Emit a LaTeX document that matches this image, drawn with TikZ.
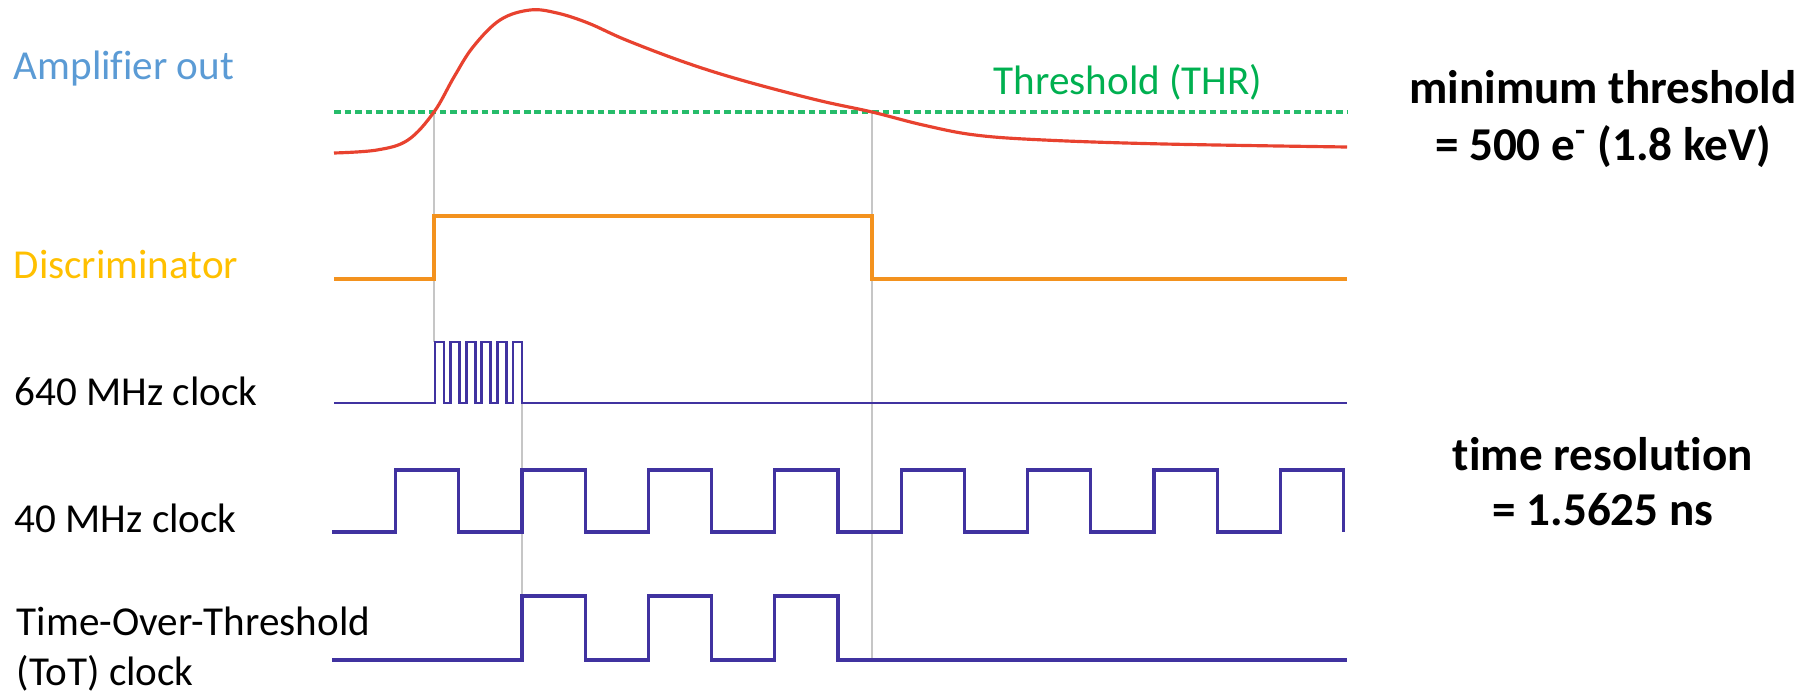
\documentclass[tikz,border=0pt]{standalone}
\usepackage{fontspec}
\setmainfont{Carlito}[Ligatures=NoCommon]
\usepackage{tikz}

\definecolor{ampred}{RGB}{232,66,47}
\definecolor{discorange}{RGB}{243,146,30}
\definecolor{thrgreen}{RGB}{0,176,80}
\definecolor{clkblue}{RGB}{64,50,160}
\definecolor{ampblue}{RGB}{91,155,213}
\definecolor{discyellow}{RGB}{255,192,0}

\begin{document}
\begin{tikzpicture}[x=0.01cm, y=-0.01cm,
    sig/.style={line width=0.9pt, line join=miter},
    guide/.style={gray!45, line width=0.6pt},
    lbl/.style={anchor=base west, inner sep=0pt, font=\fontsize{11.7}{14.3}\selectfont},
    note/.style={anchor=base, inner sep=0pt, font=\fontsize{13.4}{16.2}\selectfont\bfseries}]
    \useasboundingbox (0,0) rectangle (1815,694);

    \coordinate (T1) at (434,112);
    \coordinate (T2) at (872,112);
    \coordinate (B1) at (434,342);
    \coordinate (G1) at (522,403);
    \coordinate (G2) at (522,596);
    \coordinate (E2) at (872,660);

    \draw[guide] (T1) -- (B1);
    \draw[guide] (G1) -- (G2);
    \draw[guide] (T2) -- (E2);

    \draw[thrgreen!85, line width=0.95pt, dash pattern=on 1.9pt off 1.1pt] (334,112) -- (1347,112);
    \draw[sig, ampred] plot[smooth, tension=0.6] coordinates {(334,153) (377,150) (408,140) (T1)
        (454,77) (473,47) (500,20) (530,10) (557,13) (588,23) (626,40) (684,62) (741,80) (817,100)
        (T2) (923,125) (975,135) (1044,140) (1164,144) (1347,147)};

    \draw[sig, discorange] (334,279) -| (434,216) -| (872,279) -- (1347,279);

    \draw[sig, clkblue, line width=0.8pt] (334,403)
        foreach \k in {0,...,5} { -| ({435+15.6*\k},342) -| ({444+15.6*\k},403) } -- (1347,403);

    \draw[sig, clkblue] (332,532) -| (395.6,470) -| (458.8,532) -| (522,470) -| (585.2,532)
        -| (648.4,470) -| (711.6,532) -| (774.8,470) -| (838,532) -| (901.2,470) -| (964.4,532)
        -| (1027.6,470) -| (1090.8,532) -| (1154,470) -| (1217.2,532) -| (1280.4,470) -| (1343.6,532);

    \draw[sig, clkblue] (332,660) -| (522,596) -| (585.2,660) -| (648.4,596) -| (711.6,660)
        -| (774.8,596) -| (838,660) -- (1347,660);

    \node[lbl, text=ampblue] (amp) at (13,79) {Amplifier out};
    \node[lbl, text=discyellow] (disc) at (13,278) {Discriminator};
    \node[lbl] (fast) at (14,405) {640 MHz clock};
    \node[lbl] (slow) at (14,532) {40 MHz clock};
    \node[lbl] (tot) at (16,635) {Time-Over-Threshold};
    \node[lbl] (totb) at (16,685) {(ToT) clock};
    \node[lbl, text=thrgreen] (thr) at (993,94) {Threshold (THR)};

    \node[note] (min) at (1603,103) {minimum threshold};
    \node[note] (minb) at (1603,160) {= 500 e\textsuperscript{-} (1.8 keV)};
    \node[note] (res) at (1603,470) {time resolution};
    \node[note] (resb) at (1603,525) {= 1.5625 ns};
\end{tikzpicture}
\end{document}
